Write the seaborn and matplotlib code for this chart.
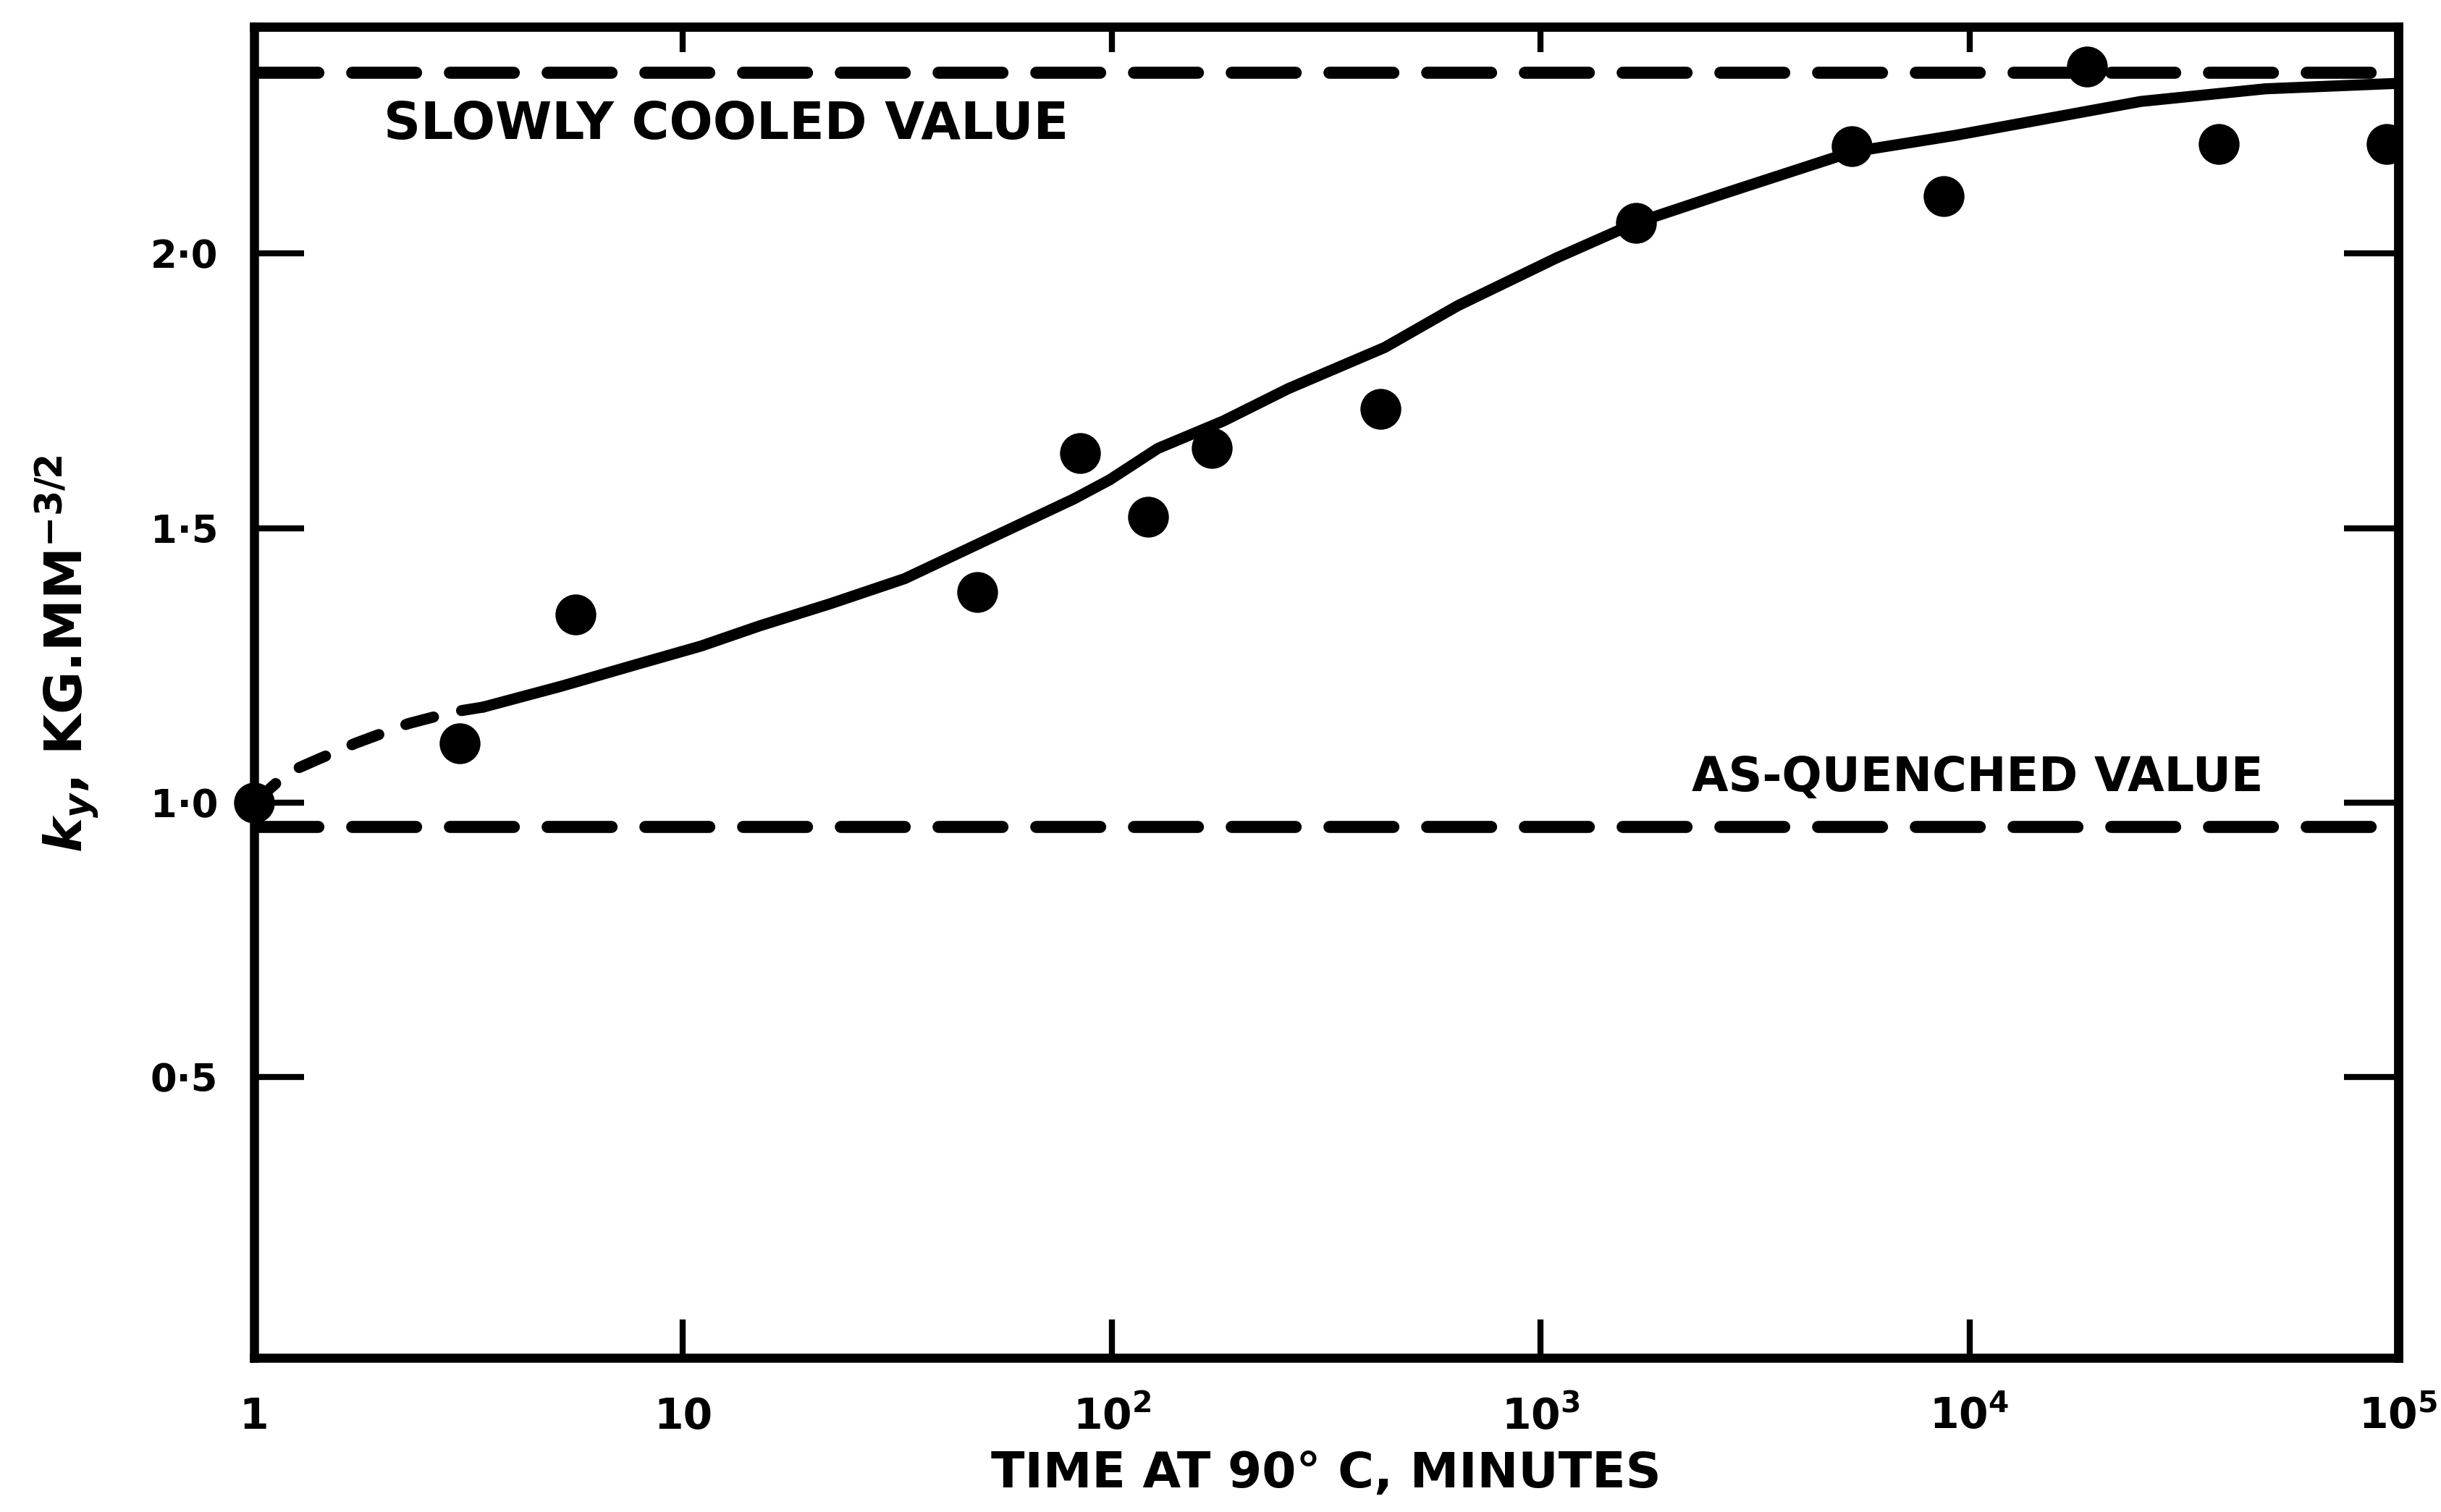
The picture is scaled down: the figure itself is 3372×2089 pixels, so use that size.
import matplotlib
matplotlib.use("Agg")
import matplotlib.pyplot as plt
from matplotlib.ticker import NullLocator, FixedLocator
import pandas as pd
import seaborn as sns

# Measured k_y after ageing at 90 °C
time_min = [3.02, 5.62, 48.6, 84.4, 121.6, 171, 423, 1669, 5317, 8710, 18800, 38100, 94000]
ky_values = [1.108, 1.343, 1.384, 1.636, 1.521, 1.646, 1.717, 2.056, 2.196, 2.104, 2.341, 2.199, 2.199]

# Smoothed trend through the measurements
trend_time = [3.42, 5.2, 7.9, 11.0, 15.1, 22.0, 32.9, 50.0, 81.5, 98.9, 128, 182, 258, 433,
              641, 1089, 1669, 2693, 5317, 9230, 25100, 49000, 100000]
trend_ky = [1.174, 1.212, 1.253, 1.285, 1.322, 1.362, 1.408, 1.475, 1.553, 1.588, 1.645,
            1.695, 1.754, 1.829, 1.905, 1.992, 2.056, 2.11, 2.185, 2.215, 2.277, 2.30, 2.31]

# Extrapolation back to the as-quenched state
early_time = [1.0, 1.2, 1.4, 1.72, 2.29, 2.9, 3.42]
early_ky = [1.0, 1.055, 1.078, 1.108, 1.144, 1.165, 1.174]

# Reference levels
slowly_cooled_ky = 2.33
as_quenched_ky = 0.957

x_ticks = [1, 10, 100, 1000, 10000, 100000]
x_tick_labels = ["1", "10", "10$^{2}$", "10$^{3}$", "10$^{4}$", "10$^{5}$"]
y_ticks = [0.5, 1.0, 1.5, 2.0]
y_tick_labels = ["0·5", "1·0", "1·5", "2·0"]

sns.set_style("white")
plt.rcParams["font.family"] = ["DejaVu Sans"]
plt.rcParams["font.weight"] = "bold"
plt.rcParams["mathtext.fontset"] = "dejavusans"
plt.rcParams["mathtext.default"] = "bf"
plt.rcParams["text.color"] = "black"
plt.rcParams["axes.labelcolor"] = "black"
plt.rcParams["xtick.color"] = "black"
plt.rcParams["ytick.color"] = "black"

fig = plt.figure(figsize=(33.73, 20.89), dpi=100)
ax = fig.add_axes([0.1041, 0.1020, 0.8781, 0.8803])

meas = pd.DataFrame({"time": time_min, "ky": ky_values})
trend = pd.DataFrame({"time": trend_time, "ky": trend_ky})
early = pd.DataFrame({"time": early_time, "ky": early_ky})

ax.set_xscale("log")

# Reference levels
ax.axhline(slowly_cooled_ky, color="black", lw=12, dashes=(5.3, 2.8),
           dash_capstyle="round", zorder=2)
ax.axhline(as_quenched_ky, color="black", lw=12, dashes=(5.3, 2.8),
           dash_capstyle="round", zorder=2)

# Trend curve and its extrapolation
sns.lineplot(data=trend, x="time", y="ky", sort=False, estimator=None, color="black",
             lw=11, solid_capstyle="round", solid_joinstyle="round", ax=ax, zorder=3)
sns.lineplot(data=early, x="time", y="ky", sort=False, estimator=None, color="black",
             lw=11, ax=ax, zorder=3)
ax.lines[-1].set_dashes((2.6, 2.6))
ax.lines[-1].set_dash_capstyle("round")

# Measurements
sns.scatterplot(data=meas, x="time", y="ky", s=1650, color="black", edgecolor="black",
                linewidth=0, ax=ax, zorder=5)
sns.scatterplot(x=early_time[:1], y=early_ky[:1], s=1650, color="black",
                edgecolor="black", linewidth=0, ax=ax, zorder=6, clip_on=False)

ax.set_xlim(1, 1e5)
ax.set_ylim(-0.011, 2.413)

ax.xaxis.set_major_locator(FixedLocator(x_ticks))
ax.xaxis.set_minor_locator(NullLocator())
ax.set_xticklabels(x_tick_labels)
ax.yaxis.set_major_locator(FixedLocator(y_ticks))
ax.set_yticklabels(y_tick_labels)

ax.tick_params(axis="x", which="major", direction="in", length=38, width=6,
               bottom=True, top=False, pad=38, labelsize=42, color="black")
ax.tick_params(axis="y", which="major", direction="in", length=50, width=6,
               left=True, right=False, pad=36, labelsize=38, color="black")

secx = ax.secondary_xaxis("top")
secx.xaxis.set_major_locator(FixedLocator(x_ticks))
secx.xaxis.set_minor_locator(NullLocator())
secx.tick_params(direction="in", length=25, width=6, labeltop=False, color="black")
secx.spines["top"].set_linewidth(9)

secy = ax.secondary_yaxis("right")
secy.yaxis.set_major_locator(FixedLocator(y_ticks))
secy.tick_params(direction="in", length=54, width=6, labelright=False, color="black")
secy.spines["right"].set_linewidth(9)

for side in ["left", "right", "top", "bottom"]:
    ax.spines[side].set_visible(True)
    ax.spines[side].set_color("black")
    ax.spines[side].set_linewidth(9)

ax.text(12.6, 2.235, "SLOWLY COOLED VALUE", ha="center", va="center",
        fontsize=51, fontweight="bold", color="black")
ax.text(10450, 1.045, "AS-QUENCHED VALUE", ha="center", va="center",
        fontsize=47, fontweight="bold", color="black")

ax.set_xlabel("TIME AT 90° C, MINUTES", fontsize=49, fontweight="bold", color="black")
ax.xaxis.set_label_coords(0.5, -0.069)
ax.set_ylabel(r"$\mathit{k}_{\mathit{y}}$, KG.MM$^{-3/2}$", fontsize=52,
              fontweight="bold", color="black")
ax.yaxis.set_label_coords(-0.071, 0.529)

fig.savefig("out.png", dpi=100, facecolor="white")
